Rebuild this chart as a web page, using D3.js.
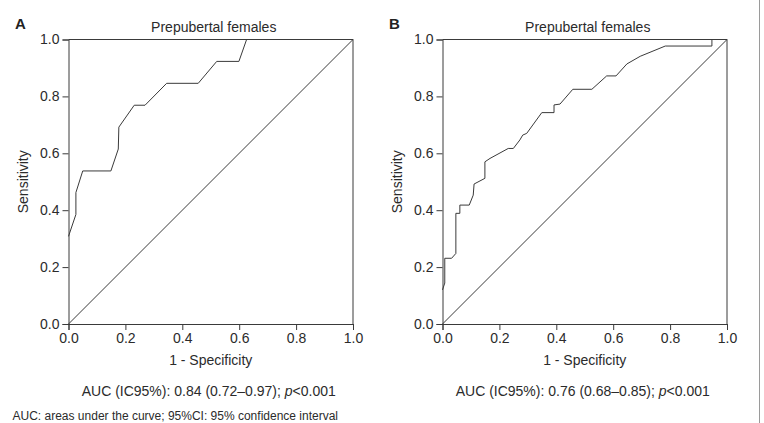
<!DOCTYPE html>
<html>
<head>
<meta charset="utf-8">
<script src="https://cdn.jsdelivr.net/npm/d3@7/dist/d3.min.js"></script>
<style>
  html, body { margin: 0; padding: 0; background: #fff; }
  svg { display: block; font-family: "Liberation Sans", Arial, Helvetica, sans-serif; }
</style>
</head>
<body>
<svg id="chart" width="764" height="423"></svg>
<script>
// ---- Data ----
const panelLetters = ["A", "B"];
const panelTitles = ["Prepubertal females", "Prepubertal females"];
const tickValues = [0, 0.2, 0.4, 0.6, 0.8, 1.0];
const xAxisTitle = "1 - Specificity";
const yAxisTitle = "Sensitivity";

// Panel A ROC curve (1 - specificity, sensitivity)
const fprA = [0, 0.026, 0.026, 0.05, 0.149, 0.175, 0.177, 0.231, 0.269, 0.345, 0.456, 0.521, 0.599, 0.626, 1];
const tprA = [0.308, 0.385, 0.462, 0.538, 0.538, 0.615, 0.692, 0.769, 0.769, 0.846, 0.846, 0.923, 0.923, 1, 1];

// Panel B ROC curve
const fprB = [0, 0.008, 0.008, 0.032, 0.047, 0.047, 0.061, 0.061, 0.094, 0.108, 0.111, 0.149, 0.149, 0.167, 0.231, 0.249, 0.272, 0.282, 0.296, 0.349, 0.392, 0.392, 0.413, 0.458, 0.525, 0.577, 0.610, 0.648, 0.695, 0.783, 0.947, 0.947, 1];
const tprB = [0.12, 0.144, 0.231, 0.231, 0.248, 0.389, 0.389, 0.418, 0.418, 0.453, 0.492, 0.512, 0.570, 0.582, 0.617, 0.617, 0.647, 0.664, 0.670, 0.743, 0.743, 0.770, 0.773, 0.825, 0.825, 0.872, 0.872, 0.914, 0.941, 0.977, 0.977, 1, 1];

// AUC annotations
const aucValues = ["0.84 (0.72\u20130.97)", "0.76 (0.68\u20130.85)"];
const pValues = ["<0.001", "<0.001"];
const footnote = "AUC: areas under the curve; 95%CI: 95% confidence interval";

// ---- Drawing ----
const svg = d3.select("#chart");
const ink = "#3a3a3a";
const textColor = "#2b2b2b";
const fs = 14;
const plotSize = 284.5;
const plotTop = 39.5;
const plotLefts = [68.5, 442.5];
const series = [[fprA, tprA], [fprB, tprB]];

plotLefts.forEach((left, i) => {
  const x = d3.scaleLinear().domain([0, 1]).range([left, left + plotSize]);
  const y = d3.scaleLinear().domain([0, 1]).range([plotTop + plotSize, plotTop]);
  const g = svg.append("g");

  // frame (top and right)
  g.append("path")
    .attr("d", `M${x(0)},${y(1)}H${x(1)}V${y(0)}`)
    .attr("fill", "none").attr("stroke", ink).attr("stroke-width", 1);

  const fmt = d3.format(".1f");
  const xAxis = g.append("g").attr("transform", `translate(0,${y(0)})`)
    .call(d3.axisBottom(x).tickValues(tickValues).tickFormat(fmt).tickSize(6).tickPadding(3));
  const yAxis = g.append("g").attr("transform", `translate(${x(0)},0)`)
    .call(d3.axisLeft(y).tickValues(tickValues).tickFormat(fmt).tickSize(6).tickPadding(3));
  [xAxis, yAxis].forEach(a => {
    a.attr("font-family", "Liberation Sans, Arial, sans-serif").attr("font-size", fs);
    a.selectAll("path, line").attr("stroke", ink);
    a.selectAll("text").attr("fill", textColor);
  });
  xAxis.selectAll("text").attr("dy", "0.68em");

  // diagonal reference line
  g.append("line")
    .attr("x1", x(0)).attr("y1", y(0)).attr("x2", x(1)).attr("y2", y(1))
    .attr("stroke", ink).attr("stroke-width", 1);

  // ROC curve
  const [fx, ty] = series[i];
  const pts = fx.map((v, k) => [v, ty[k]]);
  g.append("path")
    .attr("d", d3.line().x(d => x(d[0])).y(d => y(d[1]))(pts))
    .attr("fill", "none").attr("stroke", ink).attr("stroke-width", 1);

  const cx = left + plotSize / 2;
  // panel letter
  g.append("text").attr("x", left - 53.5).attr("y", 28.5)
    .attr("font-size", 15).attr("font-weight", "bold").attr("fill", "#222")
    .text(panelLetters[i]);
  // title
  g.append("text").attr("x", cx + 3).attr("y", 31.5).attr("text-anchor", "middle")
    .attr("font-size", fs).attr("fill", textColor).text(panelTitles[i]);
  // x axis title
  g.append("text").attr("x", cx).attr("y", 365).attr("text-anchor", "middle")
    .attr("font-size", fs).attr("fill", textColor).text(xAxisTitle);
  // y axis title
  g.append("text").attr("transform", `translate(${left - 41},${plotTop + plotSize / 2}) rotate(-90)`)
    .attr("text-anchor", "middle").attr("font-size", fs).attr("fill", textColor).text(yAxisTitle);
  // AUC text
  const t = g.append("text").attr("x", cx - 2).attr("y", 396).attr("text-anchor", "middle")
    .attr("font-size", fs).attr("fill", textColor);
  t.append("tspan").text(`AUC (IC95%): ${aucValues[i]}; `);
  t.append("tspan").attr("font-style", "italic").text("p");
  t.append("tspan").text(pValues[i]);
});

// footnote
svg.append("text").attr("x", 12.5).attr("y", 420)
  .attr("font-size", 12).attr("fill", textColor).text(footnote);

// right border line
svg.append("line").attr("x1", 759.5).attr("x2", 759.5).attr("y1", 0).attr("y2", 423)
  .attr("stroke", "#9a9a9a").attr("stroke-width", 1);
</script>
</body>
</html>
